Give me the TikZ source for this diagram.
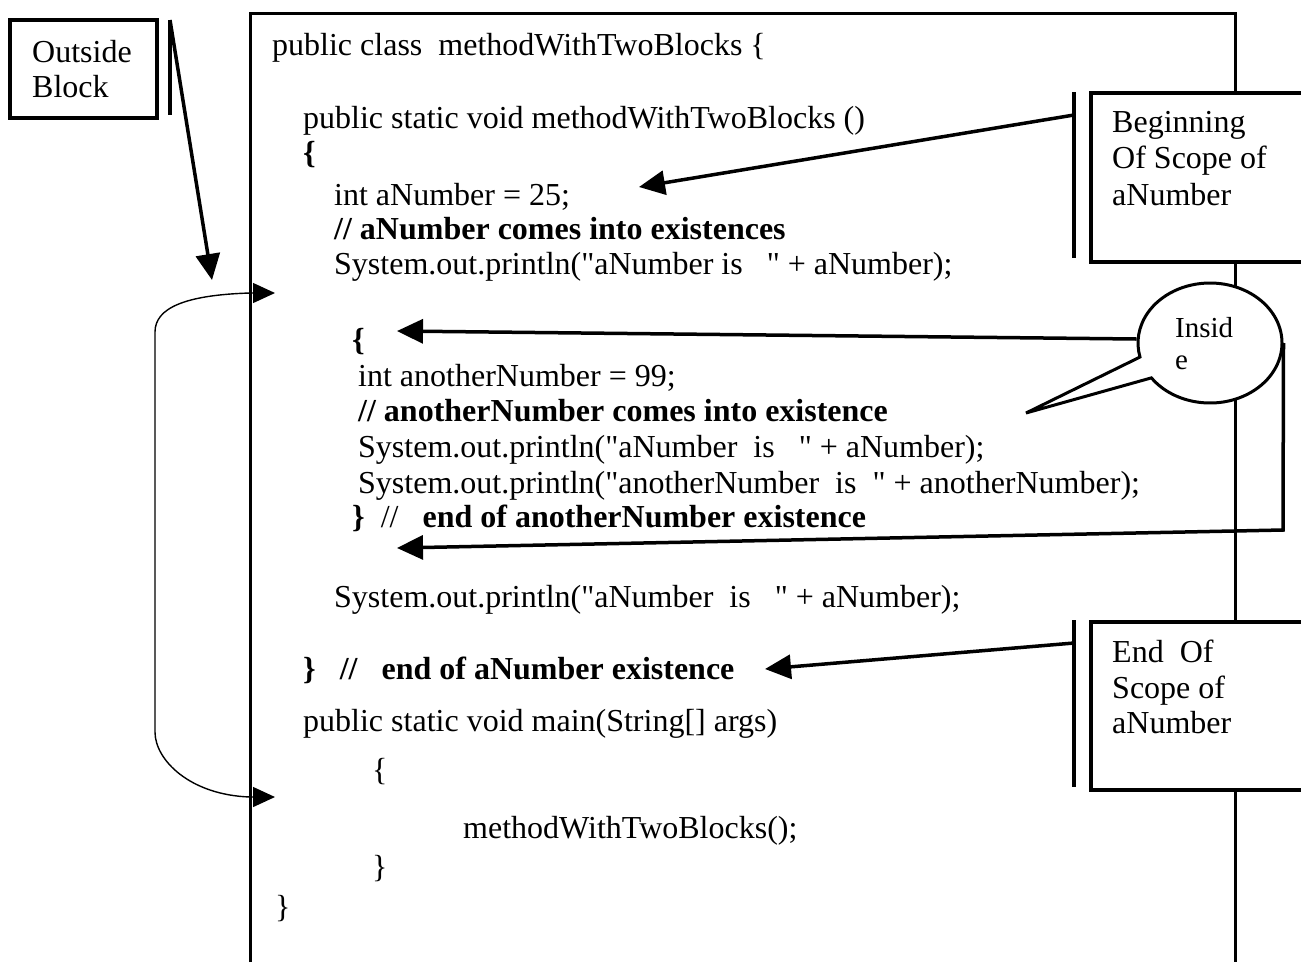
\documentclass[tikz,border=0pt]{standalone}
\usepackage{fontspec}
\setmainfont{Liberation Serif}[Ligatures=TeXOff]
\usetikzlibrary{arrows.meta,shapes.callouts}

\newcommand\codesize{\fontsize{32}{36}\selectfont}
\newcommand\notesize{\fontsize{32}{36}\selectfont}

\begin{document}
\begin{tikzpicture}[x=1pt,y=-1pt,line join=miter,
  code/.style={anchor=base west,inner sep=0pt,font=\codesize},
  notetext/.style={anchor=north west,inner sep=0pt,align=left,font=\notesize},
  notebox/.style={draw,line width=3.5pt,fill=white,anchor=north west,inner sep=0pt},
  frame/.style={line width=3pt},
  bar/.style={line width=3.5pt},
  pointer/.style={line width=3.5pt,-{Triangle[length=26pt,width=24pt]}},
  bracket/.style={line width=1.4pt,{Triangle[length=22pt,width=20pt]}-{Triangle[length=22pt,width=20pt]}}]

\useasboundingbox (0,0) rectangle (1301,962);

% class frame (open at the bottom)
\draw[frame] (250,962) -- (250,13) -- (1235,13) -- (1235,962);

% source code, one node per line
\node[code] (c1)  at (272,55)  {public class\ \ methodWithTwoBlocks \{};
\node[code] (c2)  at (303,128) {public static void methodWithTwoBlocks ()};
\node[code] (c3)  at (303,163) {\textbf{\{}};
\node[code] (c4)  at (334,205) {int aNumber = 25;};
\node[code] (c5)  at (334,239) {\textbf{// aNumber comes into existences}};
\node[code] (c6)  at (334,274) {System.out.println("aNumber is\ \ \ " + aNumber);};
\node[code] (c7)  at (352,350) {\textbf{\{}};
\node[code] (c8)  at (358,386) {int anotherNumber = 99;};
\node[code] (c9)  at (358,421) {\textbf{// anotherNumber comes into existence}};
\node[code] (c10) at (358,457) {System.out.println("aNumber\ \ is\ \ \ " + aNumber);};
\node[code] (c11) at (358,493) {System.out.println("anotherNumber\ \ is\ \ " + anotherNumber);};
\node[code] (c12) at (352,527) {\textbf{\}}\ \ //\ \ \ \textbf{end of anotherNumber existence}};
\node[code] (c13) at (334,607) {System.out.println("aNumber\ \ is\ \ \ " + aNumber);};
\node[code] (c14) at (303,679) {\textbf{\}\ \ \ //\ \ \ end of aNumber existence}};
\node[code] (c15) at (303,731) {public static void main(String[] args)};
\node[code] (c16) at (372,780) {\{};
\node[code] (c17) at (463,838) {methodWithTwoBlocks();};
\node[code] (c18) at (372,877) {\}};
\node[code] (c19) at (275,917) {\}};

% arrow tips inside the code
\coordinate (outTip)    at (212,280);
\coordinate (blockTop)  at (275,293);
\coordinate (blockBot)  at (275,797);
\coordinate (beginTip)  at (639,187);
\coordinate (endTip)    at (765,669);
\coordinate (openTip)   at (397,331);
\coordinate (closeTip)  at (397,548);
\coordinate (loopTurn)  at (1283,530);

% "Outside Block" note
\node[notebox,minimum width=147pt,minimum height=98pt] (outsideBox) at (8,18) {};
\node[notetext] (outsideText) at (32,40) {Outside\\[-1pt]Block};
\draw[bar] (170,20) coordinate (outBarTop) -- (170,115);
\draw[pointer] (outBarTop) -- (outTip);

% bracket round the whole method
\draw[bracket] (blockTop) -- (250,293)
  .. controls (185,295) and (155,308) .. (155,332)
  -- (155,732)
  .. controls (155,760) and (190,795) .. (250,797) -- (blockBot);

% "Beginning Of Scope of aNumber" note
\node[notebox,minimum width=240pt,minimum height=169pt] (beginBox) at (1089,91) {};
\node[notetext] (beginText) at (1112,111) {Beginning\\[0.5pt]Of Scope of\\[0.5pt]aNumber};
\draw[bar] (1074,92) -- (1074,258);
\draw[pointer] (1074,115) coordinate (beginBar) -- (beginTip);

% "End Of Scope of aNumber" note
\node[notebox,minimum width=240pt,minimum height=168pt] (endBox) at (1089,620) {};
\node[notetext] (endText) at (1112,640) {End\ \ Of\\[-0.5pt]Scope of\\[-0.5pt]aNumber};
\draw[bar] (1074,620) -- (1074,787);
\draw[pointer] (1074,643) coordinate (endBar) -- (endTip);

% "Inside" speech bubble
\node[ellipse callout,draw,line width=3pt,fill=white,inner sep=0pt,
      minimum width=144pt,minimum height=120pt,callout pointer arc=22,
      callout absolute pointer={(1026,413)}] (inside) at (1210,343) {};
\node[anchor=north west,inner sep=0pt,align=left,font=\fontsize{29}{32}\selectfont]
  (insideText) at (1175,317) {Insid\\e};
\draw[pointer] ([yshift=4pt]inside.west) -- (openTip);
\draw[pointer] (inside.east) -- (loopTurn) -- (closeTip);

\end{tikzpicture}
\end{document}
